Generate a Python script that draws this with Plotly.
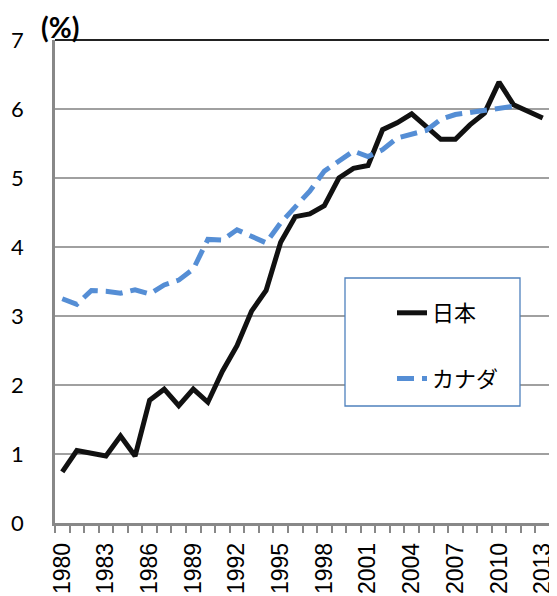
import plotly.graph_objects as go

years = list(range(1980, 2014))
japan = [0.74, 1.05, 1.01, 0.97, 1.26, 0.97, 1.78, 1.94, 1.70, 1.94,
         1.75, 2.20, 2.57, 3.07, 3.37, 4.07, 4.44, 4.48, 4.60, 5.00,
         5.14, 5.18, 5.70, 5.80, 5.93, 5.75, 5.56, 5.56, 5.77, 5.94,
         6.39, 6.06, 5.97, 5.87]
canada = [3.25, 3.17, 3.37, 3.36, 3.33, 3.38, 3.32, 3.45, 3.52, 3.68,
          4.11, 4.10, 4.25, 4.15, 4.06, 4.35, 4.59, 4.81, 5.10, 5.24,
          5.39, 5.31, 5.41, 5.58, 5.64, 5.69, 5.85, 5.92, 5.95, 5.98,
          6.00, 6.04, None, None]
label_years = list(range(1980, 2014, 3))
y_ticks = [0, 1, 2, 3, 4, 5, 6, 7]
series_names = ["日本", "カナダ"]

fig = go.Figure()
fig.add_trace(go.Scatter(x=years, y=japan, mode="lines", name=series_names[0],
                         legendgroup="a",
                         line=dict(color="#111111", width=5)))
fig.add_trace(go.Scatter(x=years, y=canada, mode="lines", name=series_names[1],
                         legendgroup="b",
                         line=dict(color="#558ED5", width=5, dash="17px,8px")))

# page body has an 8px offset; compensate so plot area is x 55-550, y 40-523
OFF = 8
W, H = 557 - OFF, 596 - OFF
L, R, T, B = 55 - OFF, 7, 40 - OFF, 73
PW, PH = W - L - R, H - T - B


def px_x(x):
    return (x - OFF - L) / PW


def px_y(y):
    return (H - B - (y - OFF)) / PH


fig.update_layout(
    width=W, height=H,
    margin=dict(l=L, r=R, t=T, b=B, autoexpand=False),
    paper_bgcolor="white", plot_bgcolor="white",
    font=dict(family="Noto Sans CJK JP, Liberation Sans", color="black"),
    showlegend=True,
    legend=dict(x=px_x(392), y=px_y(292), xanchor="left", yanchor="top",
                font=dict(size=22, family="Noto Sans CJK JP"),
                bgcolor="rgba(0,0,0,0)", borderwidth=0,
                traceorder="grouped", tracegroupgap=34),
)
fig.update_xaxes(
    range=[1979.5, 2013.5],
    tickmode="array", tickvals=label_years, ticktext=[str(v) for v in label_years],
    ticks="", tickangle=-90, showgrid=False, zeroline=False,
    tickfont=dict(size=23, family="Liberation Sans"),
    showline=True, linecolor="#888888", linewidth=2.5,
    ticklabelstandoff=8,
    minor=dict(tick0=1979.5, dtick=1, ticks="outside", ticklen=7,
               tickcolor="#888888", tickwidth=2, showgrid=False),
)
fig.update_yaxes(
    range=[0, 7], tickmode="array", tickvals=y_ticks,
    ticks="", showgrid=True, gridcolor="#A0A0A0", gridwidth=1.6,
    zeroline=False, showline=True, linecolor="#888888", linewidth=2.5,
    tickfont=dict(size=22, family="Lato"),
    ticklabelstandoff=24,
)
# top and right border of plot area
fig.add_shape(type="line", xref="paper", yref="paper", x0=0, x1=1, y0=1, y1=1,
              line=dict(color="#222222", width=2))
fig.add_shape(type="line", xref="paper", yref="paper", x0=1, x1=1, y0=0, y1=1,
              line=dict(color="#222222", width=2))
# legend box
fig.add_shape(type="rect", xref="paper", yref="paper",
              x0=px_x(345), x1=px_x(520), y0=px_y(406), y1=px_y(278),
              line=dict(color="#4F81BD", width=1.3), fillcolor="white", layer="above")
fig.add_annotation(text="<b>(%)</b>", xref="paper", yref="paper",
                   x=px_x(39), y=px_y(27), xanchor="left", yanchor="middle",
                   showarrow=False, font=dict(size=28, family="Lato"))

fig.write_html("out.html")
